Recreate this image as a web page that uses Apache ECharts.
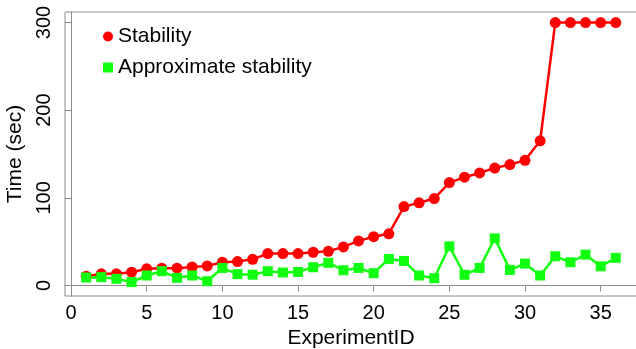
<!DOCTYPE html>
<html>
<head>
<meta charset="utf-8">
<script src="https://cdn.jsdelivr.net/npm/echarts@6/dist/echarts.min.js"></script>
<style>
  html, body { margin: 0; padding: 0; background: #fff; }
  #chart { width: 636px; height: 349px; }
</style>
</head>
<body>
<div id="chart"></div>
<script>
// values
const experimentIds = Array.from({ length: 36 }, (_, i) => i + 1);
const stability = [
  10.6, 13.3, 13.3, 15.2, 19, 19.7, 19.7, 21.2, 22.3, 26.5, 27.3, 29.8,
  36.4, 36.4, 36.4, 37.9, 39, 44, 50.8, 55.7, 59, 90, 94.3, 99.2,
  117.4, 123.5, 128.4, 134, 137.9, 142.8, 165, 300, 300, 300, 300, 300
];
const approxStability = [
  9.1, 9.5, 7.6, 3.8, 11.4, 16.3, 8.7, 11.4, 4.9, 20, 12.9, 12.3,
  16.3, 14.8, 15.5, 20.8, 25.8, 17.4, 20, 14, 30.3, 28, 11.4, 8.3,
  44.7, 12.2, 20, 53.8, 17.8, 25, 11.4, 33.3, 26.5, 35.2, 21.9, 31.5
];
const xTicks = [0, 5, 10, 15, 20, 25, 30, 35];
const yTicks = [0, 100, 200, 300];

const font = 'Liberation Sans, Arial, sans-serif';
const axisGrey = '#8c8c8c';

const chart = echarts.init(document.getElementById('chart'), null, { renderer: 'canvas' });

chart.setOption({
  animation: false,
  backgroundColor: '#fff',
  grid: {
    left: 65,
    right: -1,
    top: 12,
    bottom: 53,
    outerBoundsMode: 'none',
    containLabel: false,
    show: true,
    borderColor: axisGrey,
    borderWidth: 1
  },
  legend: {
    orient: 'vertical',
    left: 98,
    top: 21,
    itemWidth: 10,
    itemHeight: 10,
    itemGap: 10,
    textStyle: { fontFamily: font, fontSize: 21, color: '#000' },
    data: [
      { name: 'Stability', icon: 'circle' },
      { name: 'Approximate stability', icon: 'rect' }
    ]
  },
  xAxis: {
    type: 'value',
    min: -0.4,
    max: 37.4,
    name: 'ExperimentID',
    nameLocation: 'middle',
    nameGap: 29,
    nameTextStyle: { fontFamily: font, fontSize: 21, color: '#000' },
    axisLine: { show: true, lineStyle: { color: axisGrey } },
    axisTick: { show: true, inside: false, length: 6, customValues: xTicks, lineStyle: { color: axisGrey } },
    axisLabel: { fontFamily: font, fontSize: 20, color: '#000', margin: 7, customValues: xTicks },
    splitLine: { show: false }
  },
  yAxis: {
    type: 'value',
    min: -12,
    max: 312,
    name: 'Time (sec)',
    nameLocation: 'middle',
    nameRotate: 90,
    nameGap: 35,
    nameTextStyle: { fontFamily: font, fontSize: 21, color: '#000' },
    axisLine: { show: true, lineStyle: { color: axisGrey } },
    axisTick: { show: true, inside: false, length: 6, customValues: yTicks, lineStyle: { color: axisGrey } },
    axisLabel: { fontFamily: font, fontSize: 20, color: '#000', margin: 11, rotate: 90, customValues: yTicks },
    splitLine: { show: false }
  },
  series: [
    {
      name: 'Stability',
      type: 'line',
      data: experimentIds.map((id, i) => [id, stability[i]]),
      symbol: 'circle',
      symbolSize: 11,
      itemStyle: { color: '#ff0000' },
      lineStyle: { color: '#ff0000', width: 2.5 }
    },
    {
      name: 'Approximate stability',
      type: 'line',
      data: experimentIds.map((id, i) => [id, approxStability[i]]),
      symbol: 'rect',
      symbolSize: 10,
      itemStyle: { color: '#11ff11' },
      lineStyle: { color: '#11ff11', width: 2.5 }
    }
  ]
});
</script>
</body>
</html>
